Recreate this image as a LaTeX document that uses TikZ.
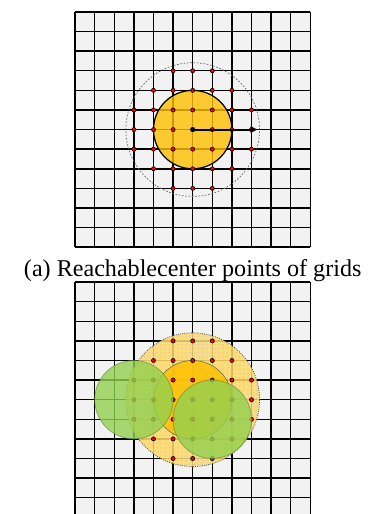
\documentclass[tikz,border=0pt]{standalone}
\usepackage{fontspec}
\setmainfont{Liberation Serif}
\usetikzlibrary{patterns,arrows.meta}
\definecolor{gridgray}{RGB}{242,242,242}
\definecolor{reachyellow}{RGB}{255,192,0}
\definecolor{lightyellow}{RGB}{255,217,102}
\definecolor{leafgreen}{RGB}{146,208,80}

\begin{document}
\begin{tikzpicture}[x=0.5cm,y=0.5cm,
    gridline/.style={line width=1.05pt},
    reachdot/.style={fill=red, draw=black, line width=0.45pt}]
    \clip (-3.83,-13.61) rectangle (15.51,12.61);

    % Top grid
    \fill[gridgray] (0,0) rectangle (12,12);
    \draw[gridline, step=0.5cm] (0,0) grid (12,12);
    \coordinate (ctrA) at (6,6);
    \coordinate (tipA) at (9.3,6);

    % Reach range
    \draw[black!60, dash pattern=on 1.2pt off 1.2pt, line width=0.5pt] (ctrA) circle (3.41);
    \draw[fill=reachyellow, fill opacity=0.8, line width=0.9pt] (ctrA) circle (2);

    % Reachable points
    \foreach \i in {-3,...,3}
      \foreach \j in {-3,...,3}{
        \ifnum\numexpr\i*\i+\j*\j\relax<12
          \filldraw[reachdot] (6+\i,6+\j) circle (1.5pt);
        \fi
      }
    \fill[black] (ctrA) circle (1.8pt);
    \draw[-{Triangle[length=5pt,width=4.5pt]}, line width=1.4pt] (ctrA) -- (tipA);

    % Caption
    \node[anchor=base, font=\fontsize{17.5}{20}\selectfont] (capA) at (6,-1.5) {(a) Reachablecenter points of grids};

    % Bottom grid
    \begin{scope}[yshift=-6.89cm]
      \fill[gridgray] (0,0) rectangle (12,12);
      \draw[gridline, step=0.5cm] (0,0) grid (12,12);
      \coordinate (ctrB) at (6,6);
      \coordinate (leftB) at (3,6);
      \coordinate (rightB) at (7,5);

      % Reach range
      \fill[lightyellow, fill opacity=0.85] (ctrB) circle (3.41);
      \fill[pattern=dots, pattern color=black!22] (ctrB) circle (3.41);
      \draw[black!70, densely dotted, line width=0.6pt] (ctrB) circle (3.41);
      \draw[fill=reachyellow, fill opacity=0.85, draw=black!60, line width=0.4pt] (ctrB) circle (2);

      % Reachable points
      \foreach \i in {-3,...,3}
        \foreach \j in {-3,...,3}{
          \ifnum\numexpr\i*\i+\j*\j\relax<12
            \filldraw[reachdot] (6+\i,6+\j) circle (1.5pt);
          \fi
        }

      % Neighbours
      \draw[fill=leafgreen, fill opacity=0.8, draw=leafgreen!60!black, draw opacity=0.6, line width=0.5pt] (leftB) circle (2);
      \draw[fill=leafgreen, fill opacity=0.8, draw=leafgreen!60!black, draw opacity=0.6, line width=0.5pt] (rightB) circle (2);
    \end{scope}
\end{tikzpicture}
\end{document}
